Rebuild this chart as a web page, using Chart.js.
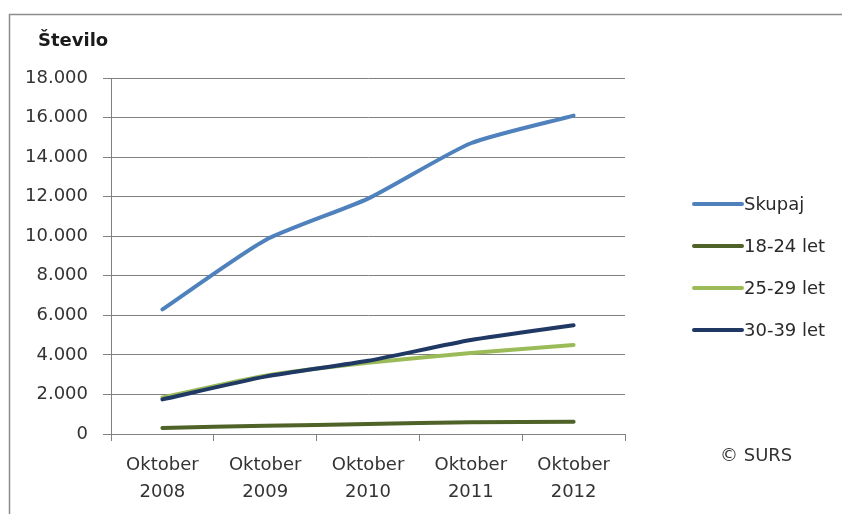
<!DOCTYPE html>
<html>
<head>
<meta charset="utf-8">
<script src="https://cdn.jsdelivr.net/npm/chart.js@4.4.1/dist/chart.umd.min.js"></script>
<style>
    html, body { margin: 0; padding: 0; background: #fff; }
    #wrap { width: 842px; height: 514px; position: relative; }
</style>
</head>
<body>
<div id="wrap"><canvas id="myChart"></canvas></div>
<script>
const categories = [['Oktober', '2008'], ['Oktober', '2009'], ['Oktober', '2010'], ['Oktober', '2011'], ['Oktober', '2012']];
const seriesNames = ['Skupaj', '18-24 let', '25-29 let', '30-39 let'];
const skupaj = [6300, 9800, 11900, 14700, 16100];
const age18to24 = [300, 420, 500, 600, 620];
const age25to29 = [1850, 2950, 3600, 4100, 4500];
const age30to39 = [1750, 2900, 3700, 4750, 5500];
const yTicks = [0, 2000, 4000, 6000, 8000, 10000, 12000, 14000, 16000, 18000];
const colors = ['#4F81BD', '#4F6228', '#9BBB59', '#1F3864'];

const FONT = '"DejaVu Sans", Verdana, sans-serif';

const fmt = (v) => v.toString().replace(/\B(?=(\d{3})+(?!\d))/g, '.');

// frame, title, legend and source note
const decorations = {
    id: 'decorations',
    beforeDraw(chart) {
        const ctx = chart.ctx;
        ctx.save();
        ctx.fillStyle = '#fff';
        ctx.fillRect(0, 0, chart.width, chart.height);
        ctx.strokeStyle = '#8c8c8c';
        ctx.lineWidth = 1.5;
        ctx.beginPath();
        ctx.moveTo(9.5, chart.height);
        ctx.lineTo(9.5, 14.5);
        ctx.lineTo(chart.width, 14.5);
        ctx.stroke();
        ctx.restore();
    },
    afterDraw(chart) {
        const ctx = chart.ctx;
        ctx.save();
        ctx.fillStyle = '#1a1a1a';
        ctx.font = 'bold 18px ' + FONT;
        ctx.textBaseline = 'middle';
        ctx.fillText('Število', 38, 41);

        ctx.font = '18px ' + FONT;
        chart.data.datasets.forEach((ds, i) => {
            const y = 204 + i * 42;
            ctx.strokeStyle = ds.borderColor;
            ctx.lineWidth = 4;
            ctx.lineCap = 'round';
            ctx.beginPath();
            ctx.moveTo(694, y);
            ctx.lineTo(742, y);
            ctx.stroke();
            ctx.fillStyle = '#2a2a2a';
            ctx.fillText(ds.label, 744, y + 1);
        });

        ctx.fillStyle = '#333';
        ctx.fillText('© SURS', 720, 456);
        ctx.restore();
    }
};

const lineChart = () => {
    const datasets = [skupaj, age18to24, age25to29, age30to39].map((values, i) => ({
        label: seriesNames[i],
        data: values,
        borderColor: colors[i],
        backgroundColor: colors[i],
        borderWidth: 4,
        pointRadius: 0,
        tension: 0.2,
        borderCapStyle: 'round',
        order: seriesNames.length - i
    }));

    new Chart('myChart', {
        type: 'line',
        data: { labels: categories, datasets: datasets },
        options: {
            responsive: true,
            maintainAspectRatio: false,
            animation: false,
            layout: { padding: { left: 0, right: 217, top: 78, bottom: 0 } },
            plugins: { legend: { display: false }, tooltip: { enabled: false } },
            scales: {
                x: {
                    offset: true,
                    grid: { offset: true, drawOnChartArea: false, drawTicks: true, tickLength: 7, color: '#808080', lineWidth: 1 },
                    border: { display: true, color: '#808080', width: 1 },
                    ticks: { color: '#333', font: { family: FONT, size: 18, lineHeight: 1.5 }, padding: 11, maxRotation: 0 },
                    afterFit: (scale) => { scale.height = 80; }
                },
                y: {
                    min: 0,
                    max: 18000,
                    afterBuildTicks: (scale) => { scale.ticks = yTicks.map(v => ({ value: v })); },
                    grid: { color: '#808080', lineWidth: 1, tickLength: 8 },
                    border: { display: true, color: '#808080', width: 1 },
                    ticks: { color: '#333', font: { family: FONT, size: 18 }, padding: 15, callback: (v) => fmt(v) },
                    afterFit: (scale) => { scale.width = 111; }
                }
            }
        },
        plugins: [decorations]
    });
};

lineChart();
</script>
</body>
</html>
